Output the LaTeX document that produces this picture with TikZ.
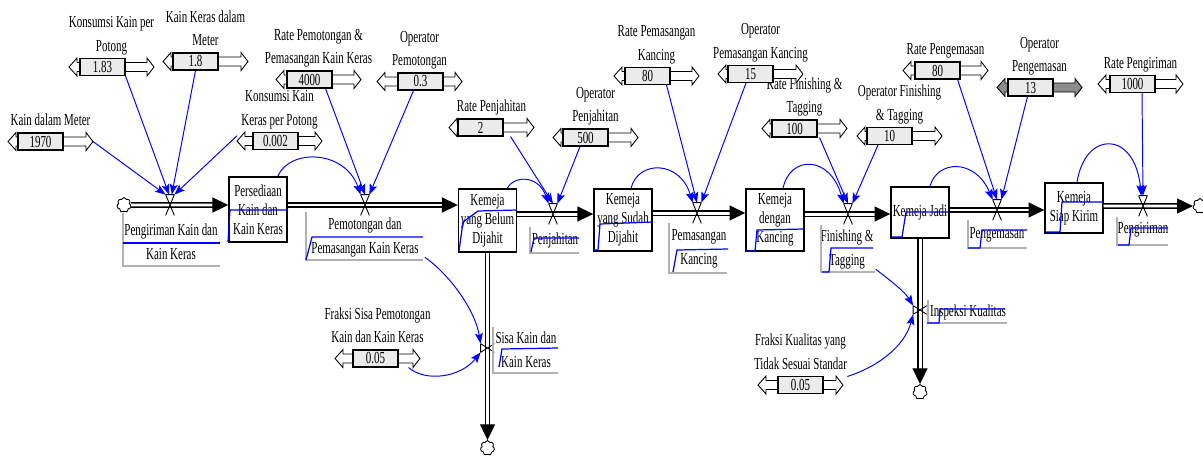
\documentclass[tikz,border=0pt]{standalone}
\usepackage{fontspec}
\setmainfont{Liberation Serif}[FakeStretch=0.65]
\usetikzlibrary{arrows.meta,shapes.symbols,positioning}

\tikzset{
  teks/.style={font=\fontsize{9.6}{13.4}\selectfont, align=center, inner sep=0pt},
  stok/.style={draw, line width=0.8pt, fill=white, minimum width=1.16cm, inner sep=0pt, align=center, font=\fontsize{9.6}{10.8}\selectfont},
  kotak/.style={draw, fill=black!8, line width=0.6pt, minimum width=0.9cm, minimum height=0.34cm, inner sep=0pt, font=\fontsize{9.6}{10}\selectfont},
  geser/.style={draw, line width=0.5pt},
  pipa/.style={draw, line width=0.8pt, double distance=1.7pt, -{Triangle[length=9pt,width=8.5pt]}},
  katup/.style={minimum width=0.16cm, minimum height=0.4cm, inner sep=0pt},
  awan/.style={cloud, cloud puffs=7, draw, line width=0.5pt, minimum width=0.28cm, minimum height=0.3cm, inner sep=0pt, fill=white},
  tautan/.style={blue, line width=0.55pt, -{Stealth[length=6pt,width=4.5pt,inset=1.2pt]}},
  garisbiru/.style={blue, line width=0.7pt},
  bingkai/.style={black!30, line width=0.6pt}
}

\begin{document}
\begin{tikzpicture}[x=0.02cm, y=-0.02cm]

  \useasboundingbox (0,0) rectangle (1203,457);

  % Constant with slider: name, left tip, y, box offset, value, label, arrow fill
  \def\konst#1#2#3#4#5#6#7{
    \draw[geser, fill=#7] (#2+#4,#3-4.5) -- (#2+8,#3-4.5) -- (#2+8,#3-9) -- (#2,#3) -- (#2+8,#3+9) -- (#2+8,#3+4.5) -- (#2+#4,#3+4.5);
    \draw[geser, fill=#7] (#2+#4+45,#3-4.5) -- (#2+78,#3-4.5) -- (#2+78,#3-9) -- (#2+85,#3) -- (#2+78,#3+9) -- (#2+78,#3+4.5) -- (#2+#4+45,#3+4.5);
    \node[kotak] (#1) at (#2+#4+22.5,#3) {#5};
    \node[teks, anchor=south] (#1-lbl) at (#2+42.5,#3-8.5) {#6\strut};
    \coordinate (#1-l) at (#2,#3);
    \coordinate (#1-r) at (#2+85,#3);
  }

  % Valve
  \def\katup#1{\draw[line width=0.5pt] (#1.north west) -- (#1.south east) (#1.north east) -- (#1.south west) (#1.north west) -- (#1.north east);}

  % Constants
  \konst{k1970}{8}{141.5}{10}{1970}{Kain dalam Meter}{white}
  \konst{k183}{69}{67}{11}{1.83}{Konsumsi Kain per\\Potong}{white}
  \konst{k18}{163}{61.5}{10}{1.8}{Kain Keras dalam\\Meter}{white}
  \konst{k0002}{237}{141}{16}{0.002}{Konsumsi Kain\\Keras per Potong}{white}
  \konst{k4000}{276}{79.5}{11}{4000}{Rate Pemotongan \&\\Pemasangan Kain Keras}{white}
  \konst{k03}{377}{81.5}{21}{0.3}{Operator\\Pemotongan}{white}
  \konst{k2}{449}{127.5}{9}{2}{Rate Penjahitan}{white}
  \konst{k500}{553}{137.5}{10}{500}{Operator\\Penjahitan}{white}
  \konst{k80a}{614}{76}{11}{80}{Rate Pemasangan\\Kancing}{white}
  \konst{k100}{762}{128.5}{10}{100}{Rate Finishing \&\\Tagging}{white}
  \konst{k15}{718}{74}{10}{15}{Operator\\Pemasangan Kancing}{white}
  \konst{k10}{857}{136}{10}{10}{Operator Finishing\\\& Tagging}{white}
  \konst{k80b}{903}{70.5}{12}{80}{Rate Pengemasan}{white}
  \konst{k13}{997}{87.5}{11}{13}{Operator\\Pengemasan}{black!45}
  \konst{k1000}{1098}{84}{12}{1000}{Rate Pengiriman}{white}
  \konst{k005a}{335}{358.5}{18}{0.05}{Fraksi Sisa Pemotongan\\Kain dan Kain Keras}{white}
  \konst{k005b}{758}{385}{20}{0.05}{Fraksi Kualitas yang\\Tidak Sesuai Standar}{white}

  % Stocks
  \node[stok, minimum height=1.3cm] (persediaan) at (258,209.5) {Persediaan\\Kain dan\\Kain Keras};
  \node[stok, minimum height=1.26cm] (belum) at (487.5,220.5) {Kemeja\\yang Belum\\Dijahit};
  \node[stok, minimum height=1.24cm] (sudah) at (623,220) {Kemeja\\yang Sudah\\Dijahit};
  \node[stok, minimum height=1.24cm] (kancing) at (775,220) {Kemeja\\dengan\\Kancing};
  \node[stok, minimum height=1.02cm] (jadi) at (920,212.5) {Kemeja Jadi};
  \node[stok, minimum height=1.0cm] (siap) at (1074,208) {Kemeja\\Siap Kirim};

  % Clouds
  \node[awan] (c1) at (124,205) {};
  \node[awan] (c2) at (1200,206) {};
  \node[awan] (c3) at (487.5,448) {};
  \node[awan] (c4) at (920,392) {};

  % Valves
  \node[katup] (v1) at (170,205) {};
  \node[katup] (v2) at (365,205) {};
  \node[katup] (v3) at (553,214) {};
  \node[katup] (v4) at (697,213) {};
  \node[katup] (v5) at (848,214) {};
  \node[katup] (v6) at (997,210) {};
  \node[katup] (v7) at (1143,206) {};
  \node[katup, rotate=90, minimum height=0.26cm] (v8) at (487.5,348) {};
  \node[katup, rotate=90, minimum height=0.26cm] (v9) at (920,310) {};

  % Flows
  \draw[pipa] (c1) -- (persediaan.west |- c1);
  \draw[pipa] (persediaan.east |- v2) -- (belum.west |- v2);
  \draw[pipa] (belum.east |- v3) -- (sudah.west |- v3);
  \draw[pipa] (sudah.east |- v4) -- (kancing.west |- v4);
  \draw[pipa] (kancing.east |- v5) -- (jadi.west |- v5);
  \draw[pipa] (jadi.east |- v6) -- (siap.west |- v6);
  \draw[pipa] (siap.east |- v7) -- (c2);
  \draw[pipa] (belum.south) -- (c3);
  \draw[pipa] (jadi.south) -- (c4);
  \katup{v1} \katup{v2} \katup{v3} \katup{v4} \katup{v5}
  \katup{v6} \katup{v7} \katup{v8} \katup{v9}

  % Flow names
  \node[teks] (f1l) at (171,241.5) {Pengiriman Kain dan\\Kain Keras};
  \node[teks] (f2l) at (365,237.5) {Pemotongan dan\\Pemasangan Kain Keras};
  \node[teks] (f3l) at (555,240) {Penjahitan};
  \node[teks] (f4l) at (699,249) {Pemasangan\\Kancing};
  \node[teks] (f5l) at (847,249.5) {Finishing \&\\Tagging};
  \node[teks] (f6l) at (997,235) {Pengemasan};
  \node[teks] (f7l) at (1143,230) {Pengiriman};
  \node[teks] (f8l) at (526,349.5) {Sisa Kain dan\\Kain Keras};
  \node[teks] (f9l) at (968,312) {Inspeksi Kualitas};

  \draw[bingkai] (123,213) |- (220,266);
  \draw[bingkai] (306,212) |- (423,260);
  \draw[bingkai] (530,227) |- (579,253);
  \draw[bingkai] (669,223) |- (727,273);
  \draw[bingkai] (821,225) |- (875,272);
  \draw[bingkai] (968,220) |- (1027,248);
  \draw[bingkai] (1117,217) |- (1168,245);
  \draw[bingkai] (493,327) |- (558,373);
  \draw[bingkai] (928,300) |- (1007,323);

  \draw[garisbiru] (123,243) -- (220,243);
  \draw[garisbiru] (228,242) -- (230,210) -- (288,210);
  \draw[garisbiru] (306,260) -- (312,237) -- (423,237);
  \draw[garisbiru] (459,251) -- (463,222) -- (478,211) -- (517,210);
  \draw[garisbiru] (531,252) -- (534,238) -- (579,238);
  \draw[garisbiru] (593,250) -- (598,250) -- (600,224) -- (653,222);
  \draw[garisbiru] (673,272) -- (677,250) -- (728,249);
  \draw[garisbiru] (746,251) -- (755,251) -- (757,230) -- (804,229);
  \draw[garisbiru] (822,272) -- (829,272) -- (831,248) -- (873,248);
  \draw[garisbiru] (892,237) -- (902,237) -- (906,212) -- (948,212);
  \draw[garisbiru] (968,248) -- (980,248) -- (982,230) -- (1027,230);
  \draw[garisbiru] (1046,232) -- (1060,232) -- (1062,202) -- (1103,202);
  \draw[garisbiru] (1118,245) -- (1129,245) -- (1131,228) -- (1168,228);
  \draw[garisbiru] (499,367) -- (502,349) -- (558,348);
  \draw[garisbiru] (927,323) -- (939,323) -- (940,309) -- (1005,309);

  % Links
  \draw[tautan] (k1970-r) -- (v1.north west);
  \draw[tautan] (k183.south east) -- ([xshift=-0.5pt]v1.north);
  \draw[tautan] (k18.south) -- ([xshift=1pt]v1.north);
  \draw[tautan] ([yshift=3pt]k0002-l) -- (v1.north east);

  \draw[tautan] ([xshift=-0.2cm]persediaan.north east) .. controls (290,148) and (345,150) .. (v2.north west);
  \draw[tautan] ([xshift=-0.14cm]k4000.south east) -- (v2.north);
  \draw[tautan] ([xshift=-0.14cm]k03.south) -- (v2.north east);

  \draw[tautan] ([xshift=-0.2cm]belum.north east) .. controls (513,176) and (538,174) .. (v3.north west);
  \draw[tautan] ([xshift=0.14cm]k2.south east) -- (v3.north);
  \draw[tautan] ([xshift=-0.11cm]k500.south) -- (v3.north east);

  \draw[tautan] ([xshift=0.16cm]sudah.north) .. controls (638,160) and (680,160) .. (v4.north west);
  \draw[tautan] ([xshift=-0.08cm]k80a.south east) -- (v4.north);
  \draw[tautan] ([xshift=-0.09cm]k15.south) -- (v4.north east);

  \draw[tautan] ([xshift=0.16cm]kancing.north) .. controls (790,155) and (830,155) .. (v5.north west);
  \draw[tautan] ([xshift=0.04cm]k100.south east) -- (v5.north);
  \draw[tautan] ([xshift=-0.23cm]k10.south) -- (v5.north east);

  \draw[tautan] ([xshift=0.2cm]jadi.north) .. controls (937,160) and (975,158) .. (v6.north west);
  \draw[tautan] ([xshift=-0.06cm]k80b.south east) -- (v6.north);
  \draw[tautan] ([xshift=-0.06cm]k13.south) -- (v6.north east);

  \draw[tautan] ([xshift=0.06cm]siap.north) .. controls (1085,130) and (1135,130) .. ([xshift=-1pt]v7.north);
  \draw[tautan] ([xshift=0.19cm]k1000.south) -- (v7.north);

  \draw[tautan] ([xshift=0.12cm]f2l.south east) .. controls (450,275) and (475,310) .. (v8.north east);
  \draw[tautan] ([xshift=0.2cm]k005a.south east) .. controls (425,382) and (460,378) .. (v8.north west);

  \draw[tautan] ([xshift=0.04cm]f5l.south east) .. controls (890,280) and (905,292) .. (v9.north east);
  \draw[tautan] (k005b-lbl.south east) .. controls (880,366) and (905,345) .. (v9.north west);

\end{tikzpicture}
\end{document}
